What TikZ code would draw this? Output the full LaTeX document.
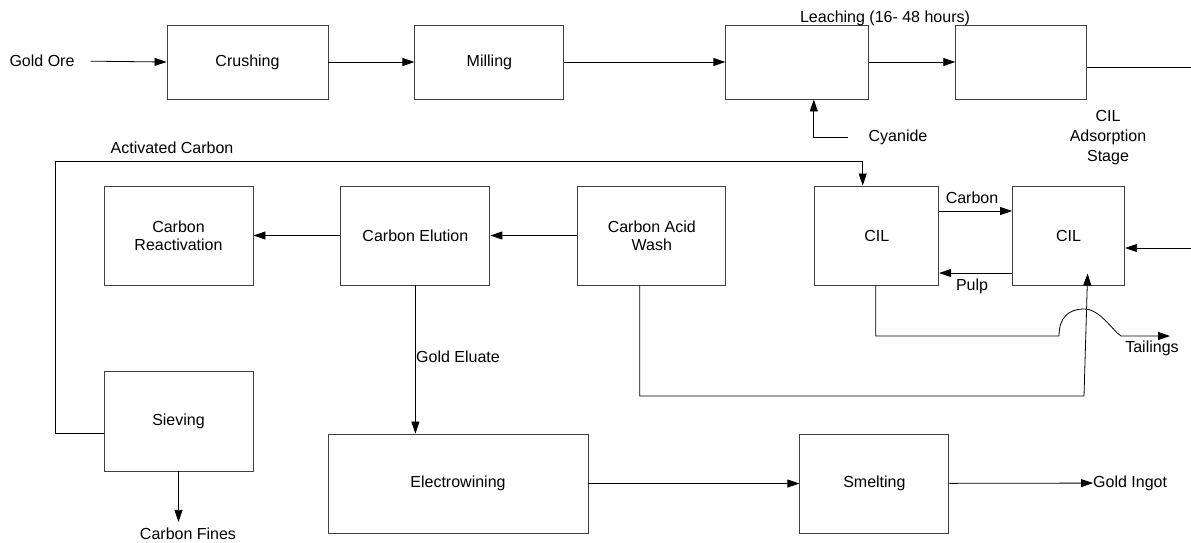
\documentclass[tikz,border=0pt]{standalone}
\usepackage{fontspec}
\setmainfont{Liberation Sans}
\usetikzlibrary{positioning,arrows.meta}

\begin{document}
\begin{tikzpicture}[x=1pt,y=-1pt,
    font=\fontsize{16}{18}\selectfont,
    box/.style={draw=black!75,line width=0.9pt,inner sep=0pt,align=center,minimum height=74pt},
    unit/.style={box,minimum height=99pt},
    lbl/.style={inner sep=0pt,align=center},
    flow/.style={line width=0.8pt,-{Triangle[length=12pt,width=8pt]}},
    pipe/.style={line width=0.8pt}]
    \path[use as bounding box] (0,0) rectangle (1191,542);
    \node[lbl] (ore) at (42,61) {Gold Ore};
    \node[box,minimum width=161pt] (crush) at (247.5,62) {Crushing};
    \node[box,minimum width=149pt,right=86pt of crush] (mill) {Milling};
    \node[box,minimum width=143pt,right=161pt of mill] (leach1) {};
    \node[box,minimum width=131pt,right=86pt of leach1] (leach2) {};
    \node[lbl] (leachlbl) at (885,18.5) {Leaching (16- 48 hours)};
    \node[lbl] (cyan) at (898,137) {Cyanide};
    \node[lbl,font=\fontsize{16}{20}\selectfont] (stage) at (1108,138) {CIL\\Adsorption\\Stage};
    \node[unit,minimum width=149pt] (react) at (178.5,235.5) {Carbon\\Reactivation};
    \node[unit,minimum width=149pt,right=87pt of react] (elute) {Carbon Elution};
    \node[unit,minimum width=148pt,right=87pt of elute] (wash) {Carbon Acid\\Wash};
    \node[unit,minimum width=124pt,right=88pt of wash] (cil1) {CIL};
    \node[unit,minimum width=112pt,right=73pt of cil1] (cil2) {CIL};
    \node[unit,minimum width=149pt,minimum height=100pt] (sieve) at (178.5,421) {Sieving};
    \node[unit,minimum width=260pt] (ewin) at (458,483.5) {Electrowining};
    \node[unit,minimum width=149pt,right=211pt of ewin] (smelt) {Smelting};
    \node[lbl,anchor=west] (ingot) at (1093,483) {Gold Ingot};
    \node[lbl] (fines) at (188,534) {Carbon Fines};
    \node[lbl] (actlbl) at (172,148) {Activated Carbon};
    \node[lbl] (carbonlbl) at (972,198) {Carbon};
    \node[lbl] (pulplbl) at (972,286) {Pulp};
    \node[lbl] (tails) at (1152,348) {Tailings};
    \node[lbl,anchor=west] (eluate) at (416,357) {Gold Eluate};
    \coordinate (out) at (1191,67);
    \coordinate (cyin) at (848,137);
    \coordinate (ac) at (55,161);
    \coordinate (wr) at (1084,396);
    \coordinate (feed) at (1191,248);
    \coordinate (hopa) at (1059,336);
    \coordinate (hopb) at (1121,336);
    \coordinate (tail) at (1170,336);
    \draw[flow,shorten <=16pt] (ore.east) -- (crush.west);
    \draw[flow] (crush) -- (mill);
    \draw[flow] (mill) -- (leach1);
    \draw[flow] (leach1) -- (leach2);
    \draw[pipe] (leach2.east |- out) -- (out);
    \draw[flow] (cyin) -| ([xshift=16.5pt]leach1.south);
    \draw[flow] ([yshift=-12pt]sieve.west) -| (ac) -| ([xshift=-14pt]cil1.north);
    \draw[flow] (elute) -- (react);
    \draw[flow] (wash) -- (elute);
    \draw[flow] (elute.south) -- (elute.south |- ewin.north);
    \draw[flow] ([xshift=-12pt]wash.south) |- (wr) -- ([xshift=19pt,yshift=12pt]cil2.south);
    \draw[flow] ([yshift=24.5pt]cil1.east) -- ([yshift=24.5pt]cil2.west);
    \draw[flow] ([yshift=-37.5pt]cil2.west) -- ([yshift=-37.5pt]cil1.east);
    \draw[flow] (feed) -- (cil2.east |- feed);
    \draw[flow] ([xshift=-1pt]cil1.south) |- (hopa) .. controls (1059,318) and (1068,309) .. (1084,309)
        .. controls (1100,309) and (1112,330) .. (hopb) -- (tail);
    \draw[flow,shorten >=6pt] (sieve.south) -- (sieve.south |- fines.north);
    \draw[flow] (ewin) -- (smelt);
    \draw[flow] (smelt) -- (ingot);
\end{tikzpicture}
\end{document}
